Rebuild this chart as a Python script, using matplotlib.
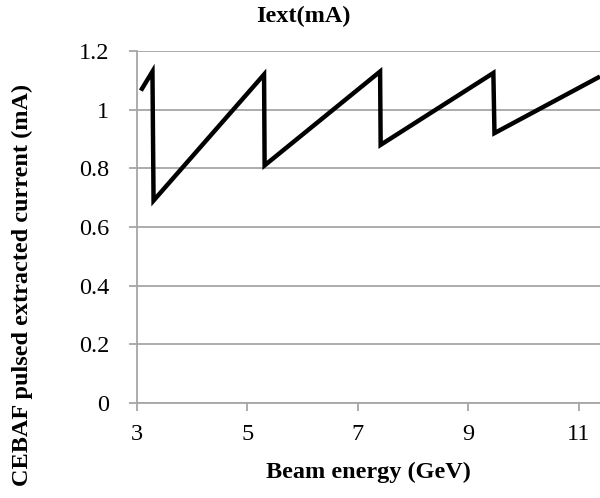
import matplotlib
matplotlib.use('Agg')
import matplotlib.pyplot as plt

# beam energy (GeV) vs pulsed extracted current (mA)
energy = [3.07, 3.28, 3.30, 5.30, 5.31, 7.40, 7.41, 9.45, 9.47, 11.38]
current = [1.065, 1.13, 0.69, 1.12, 0.81, 1.13, 0.88, 1.125, 0.92, 1.113]

x_ticks = [3, 5, 7, 9, 11]
y_ticks = [0, 0.2, 0.4, 0.6, 0.8, 1.0, 1.2]
y_labels = ['0', '0.2', '0.4', '0.6', '0.8', '1', '1.2']

grey = '#a6a6a6'
serif = ['Liberation Serif', 'DejaVu Serif']

fig = plt.figure(figsize=(6, 4.98), dpi=100)
ax = fig.add_axes([0.2283, 0.1908, 0.7717, 0.7068])

ax.plot(energy, current, color='black', lw=3.2, solid_joinstyle='miter',
        solid_capstyle='butt', zorder=3, clip_on=True)

ax.set_xlim(3, 11.38)
ax.set_ylim(0, 1.2)
ax.set_xticks(x_ticks)
ax.set_xticklabels([str(t) for t in x_ticks], family=serif, fontsize=17.5)
ax.set_yticks(y_ticks)
ax.set_yticklabels(y_labels, family=serif, fontsize=17.5)

ax.yaxis.grid(True, color=grey, lw=1.3)
ax.set_axisbelow(True)
for s in ['top', 'right']:
    ax.spines[s].set_visible(False)
for s in ['left', 'bottom']:
    ax.spines[s].set_color(grey)
    ax.spines[s].set_linewidth(1.3)
ax.tick_params(axis='both', direction='out', length=6, width=1.3, color=grey)
ax.tick_params(axis='x', pad=9)
ax.tick_params(axis='y', pad=14)

ax.set_xlabel('Beam energy (GeV)', family=serif, fontsize=17.5, fontweight='bold',
              labelpad=12)
ax.set_ylabel('CEBAF pulsed extracted current (mA)', family=serif, fontsize=17.5,
              fontweight='bold')
ax.yaxis.set_label_coords(-0.224, 0.335)
fig.text(0.505, 0.966, 'Iext(mA)', family=serif, fontsize=17.5, fontweight='bold',
         ha='center', va='center')

fig.savefig('out.png', dpi=100)
